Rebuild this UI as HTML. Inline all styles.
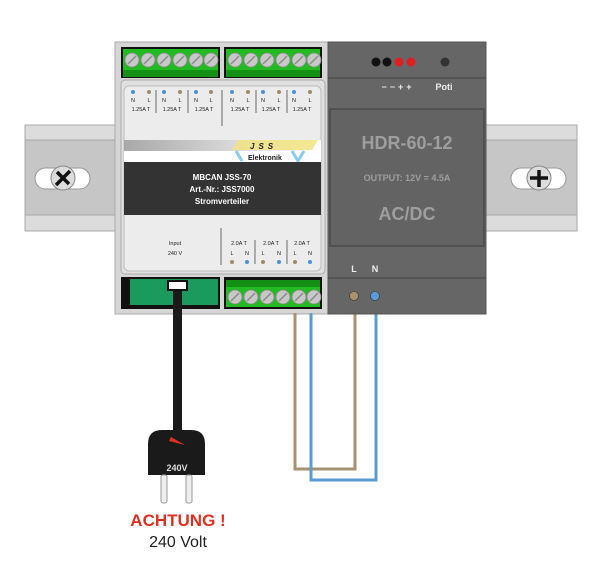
<!DOCTYPE html>
<html><head><meta charset="utf-8"><style>
html,body{margin:0;padding:0;background:#fff;}
svg{display:block;font-family:"Liberation Sans",sans-serif;}
</style></head><body>
<svg width="600" height="567" viewBox="0 0 600 567" xmlns="http://www.w3.org/2000/svg">
<defs>
<linearGradient id="gb" x1="0" x2="1" y1="0" y2="0">
<stop offset="0" stop-color="#a8a8a8"/><stop offset="1" stop-color="#ffffff"/></linearGradient>
<g id="scr"><circle r="7" fill="#c8c8c8" stroke="#8a8a8a" stroke-width="0.8"/><line x1="-4" y1="4" x2="4" y2="-4" stroke="#8a8a8a" stroke-width="1.5"/></g>
</defs>
<rect x="25" y="125" width="552" height="106" fill="#dcdcdc" stroke="#a8a8a8" stroke-width="1"/>
<rect x="25" y="140" width="552" height="75" fill="#c6c6c6" stroke="#a8a8a8" stroke-width="1"/>
<rect x="35" y="168" width="55" height="21" rx="10.5" fill="#fff" stroke="#999"/>
<rect x="511" y="168" width="55" height="21" rx="10.5" fill="#fff" stroke="#999"/>
<circle cx="63" cy="178" r="12" fill="#dcdcdc" stroke="#888"/>
<path d="M56 185 L70 171 M57 172 L69 184" stroke="#111" stroke-width="3.5"/>
<circle cx="539" cy="178" r="12" fill="#dcdcdc" stroke="#888"/>
<path d="M539 170 V187 M530 178 H548" stroke="#111" stroke-width="3.5"/>
<rect x="115" y="42" width="213" height="272" fill="#d6d6d6" stroke="#aaa"/>
<rect x="121" y="47" width="99" height="31" fill="#111"/>
<rect x="224" y="47" width="98" height="31" fill="#111"/>
<rect x="123" y="49" width="95" height="22" fill="#22bb22"/>
<rect x="226" y="49" width="94" height="22" fill="#22bb22"/>
<rect x="123" y="70" width="95" height="7" fill="#149014"/>
<rect x="226" y="70" width="94" height="7" fill="#149014"/>
<g>
<use href="#scr" x="132" y="60"/><use href="#scr" x="148" y="60"/><use href="#scr" x="164" y="60"/><use href="#scr" x="180" y="60"/><use href="#scr" x="196" y="60"/><use href="#scr" x="211" y="60"/>
<use href="#scr" x="235" y="60"/><use href="#scr" x="251" y="60"/><use href="#scr" x="267" y="60"/><use href="#scr" x="283" y="60"/><use href="#scr" x="299" y="60"/><use href="#scr" x="314" y="60"/>
</g>
<rect x="121" y="277" width="99" height="32" fill="#111"/>
<rect x="224" y="277" width="98" height="32" fill="#111"/>
<rect x="130" y="279" width="88" height="26" fill="#1a9a5c"/>
<rect x="226" y="280" width="94" height="7" fill="#149014"/>
<rect x="226" y="287" width="94" height="20" fill="#22bb22"/>
<use href="#scr" x="235" y="297"/><use href="#scr" x="251" y="297"/><use href="#scr" x="267" y="297"/><use href="#scr" x="283" y="297"/><use href="#scr" x="299" y="297"/><use href="#scr" x="314" y="297"/>
<rect x="121" y="80" width="204" height="194" rx="4" fill="#e0e0e0" stroke="#aaa"/>
<rect x="124" y="86" width="197" height="185" rx="5" fill="#ececec" stroke="#bbb"/>
<rect x="124" y="140" width="197" height="11" fill="url(#gb)"/>
<rect x="124" y="151" width="197" height="11" fill="#fff"/>
<path d="M232 150 l6 -10 h80 l-6 10 z" fill="#f2e27a" opacity="0.8"/>
<text x="250" y="149" font-size="8" font-weight="bold" font-style="italic" fill="#222" letter-spacing="4">JSS</text>
<path d="M236 151 l6 10 M304 151 l-6 10 l-6 -10" stroke="#88ccee" stroke-width="3" fill="none"/>
<text x="248" y="160" font-size="7" font-weight="bold" fill="#222">Elektronik</text>
<rect x="124" y="162" width="197" height="53" fill="#333"/>
<g fill="#fff" font-size="8" font-weight="bold" text-anchor="middle">
<text x="222" y="180">MBCAN JSS-70</text>
<text x="222" y="192">Art.-Nr.: JSS7000</text>
<text x="222" y="204">Stromverteiler</text>
</g>
<g font-size="5.5" fill="#222" text-anchor="middle">
<g fill="#4a90d9"><circle cx="133" cy="92" r="2"/><circle cx="164" cy="92" r="2"/><circle cx="196" cy="92" r="2"/><circle cx="232" cy="92" r="2"/><circle cx="263" cy="92" r="2"/><circle cx="294" cy="92" r="2"/>
<circle cx="247" cy="262" r="2"/><circle cx="279" cy="262" r="2"/><circle cx="310" cy="262" r="2"/></g>
<g fill="#a08a6a"><circle cx="149" cy="92" r="2"/><circle cx="180" cy="92" r="2"/><circle cx="211" cy="92" r="2"/><circle cx="248" cy="92" r="2"/><circle cx="279" cy="92" r="2"/><circle cx="310" cy="92" r="2"/>
<circle cx="232" cy="262" r="2"/><circle cx="263" cy="262" r="2"/><circle cx="295" cy="262" r="2"/></g>
<text x="133" y="102">N</text><text x="149" y="102">L</text><text x="164" y="102">N</text><text x="180" y="102">L</text><text x="196" y="102">N</text><text x="211" y="102">L</text>
<text x="232" y="102">N</text><text x="248" y="102">L</text><text x="263" y="102">N</text><text x="279" y="102">L</text><text x="294" y="102">N</text><text x="310" y="102">L</text>
<text x="141" y="111">1.25A T</text><text x="172" y="111">1.25A T</text><text x="204" y="111">1.25A T</text><text x="240" y="111">1.25A T</text><text x="271" y="111">1.25A T</text><text x="302" y="111">1.25A T</text>
<text x="239" y="245">2.0A T</text><text x="271" y="245">2.0A T</text><text x="302" y="245">2.0A T</text>
<text x="232" y="255">L</text><text x="247" y="255">N</text><text x="263" y="255">L</text><text x="279" y="255">N</text><text x="295" y="255">L</text><text x="310" y="255">N</text>
<text x="175" y="245">Input</text><text x="175" y="255">240 V</text>
</g>
<g stroke="#333" stroke-width="0.7">
<line x1="156" y1="90" x2="156" y2="113"/><line x1="188" y1="90" x2="188" y2="113"/><line x1="222" y1="90" x2="222" y2="126"/><line x1="256" y1="90" x2="256" y2="113"/><line x1="287" y1="90" x2="287" y2="113"/>
<line x1="221" y1="228" x2="221" y2="265"/><line x1="255" y1="240" x2="255" y2="264"/><line x1="287" y1="240" x2="287" y2="264"/>
</g>
<rect x="173" y="283" width="9" height="150" fill="#1a1a1a"/>
<rect x="168" y="281" width="19" height="9" fill="#fff" stroke="#111" stroke-width="2"/>
<path d="M148 475 V444 Q148 430 162 430 H191 Q205 430 205 444 V475 Z" fill="#1a1a1a"/>
<path d="M169 441 l2 -4 l14 8 z" fill="#e03020"/>
<text x="177" y="471" font-size="9" font-weight="bold" fill="#ddd" text-anchor="middle">240V</text>
<rect x="161" y="475" width="6" height="28" rx="2" fill="#eee" stroke="#999"/>
<rect x="186" y="475" width="6" height="28" rx="2" fill="#eee" stroke="#999"/>
<text x="178" y="526" font-size="17" font-weight="bold" fill="#e03020" text-anchor="middle">ACHTUNG !</text>
<text x="178" y="547" font-size="16" fill="#222" text-anchor="middle">240 Volt</text>
<path d="M295 313 V469 H355 V313" fill="none" stroke="#a89070" stroke-width="3"/>
<path d="M311 313 V480 H376 V313" fill="none" stroke="#5b9bd5" stroke-width="3"/>
<rect x="328" y="42" width="158" height="272" fill="#666" stroke="#555"/>
<line x1="328" y1="78" x2="486" y2="78" stroke="#444"/>
<line x1="328" y1="278" x2="486" y2="278" stroke="#444"/>
<rect x="330" y="109" width="154" height="137" fill="#636363" stroke="#444" stroke-width="1.2"/>
<circle cx="376" cy="62" r="4.5" fill="#111"/><circle cx="387" cy="62" r="4.5" fill="#111"/>
<circle cx="399" cy="62" r="4.5" fill="#e02020"/><circle cx="411" cy="62" r="4.5" fill="#e02020"/>
<circle cx="445" cy="62" r="4.5" fill="#333"/>
<text x="398" y="90" font-size="9" font-weight="bold" fill="#eee" text-anchor="middle" letter-spacing="3">−−++</text>
<text x="444" y="90" font-size="9" font-weight="bold" fill="#eee" text-anchor="middle">Poti</text>
<text x="407" y="149" font-size="18" font-weight="bold" fill="#9e9e9e" text-anchor="middle">HDR-60-12</text>
<text x="407" y="181" font-size="9" font-weight="bold" fill="#9e9e9e" text-anchor="middle">OUTPUT: 12V = 4.5A</text>
<text x="407" y="220" font-size="18" font-weight="bold" fill="#9e9e9e" text-anchor="middle">AC/DC</text>
<text x="354" y="272" font-size="9" font-weight="bold" fill="#eee" text-anchor="middle">L</text>
<text x="375" y="272" font-size="9" font-weight="bold" fill="#eee" text-anchor="middle">N</text>
<circle cx="354" cy="296" r="4.5" fill="#a89070" stroke="#333" stroke-width="0.6"/>
<circle cx="375" cy="296" r="4.5" fill="#5b9bd5" stroke="#333" stroke-width="0.6"/>
</svg>
</body></html>
